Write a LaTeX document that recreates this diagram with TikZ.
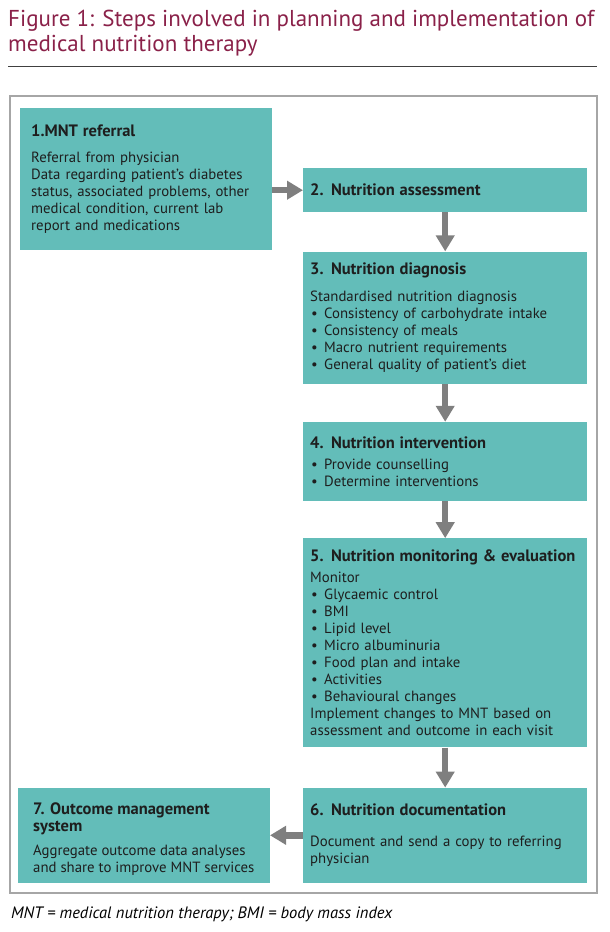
\documentclass[tikz,border=0pt]{standalone}
\usepackage{fontspec}
\setmainfont{PT Sans}
\usetikzlibrary{positioning,arrows.meta,calc}
\definecolor{mntteal}{HTML}{63BDB9}
\definecolor{mntmaroon}{HTML}{8A2149}
\definecolor{mntgrey}{HTML}{7F7F7F}
\definecolor{mntink}{HTML}{1E1E1E}
\newcommand{\bul}{\makebox[14pt][l]{\hspace{1pt}\textbullet}}
\newcommand{\steptitle}[1]{{\fontsize{16.5}{17}\selectfont\bfseries #1}}
\tikzset{
  stepbox/.style={rectangle, fill=mntteal, text=mntink, align=left,
    inner ysep=0pt, font=\fontsize{14.8}{17}\selectfont},
  leftbox/.style={stepbox, inner xsep=11pt, text width=230pt},
  rightbox/.style={stepbox, inner xsep=7pt, text width=270pt},
  flow/.style={-{Triangle[width=18pt,length=16pt]}, draw=mntgrey, line width=6.5pt},
  frame/.style={draw=gray!70, line width=1.2pt},
  rule/.style={draw=black!75, line width=1pt}
}
\begin{document}
\begin{tikzpicture}[x=1pt,y=-1pt,node distance=38pt]
  \useasboundingbox (0,0) rectangle (610,932);
  % title and rule
  \node[anchor=north west, inner sep=0pt, align=left, text=mntmaroon,
    font=\fontsize{23}{25}\selectfont] (title) at (8,10)
    {Figure 1: Steps involved in planning and implementation of\\
     medical nutrition therapy};
  \draw[rule] (8,66) -- (597,66);
  \draw[frame] (10,96) rectangle (597,893);
  % steps
  \node[leftbox, anchor=north west, minimum height=142pt] (referral) at (20,108)
    {\steptitle{1.MNT referral}\\[9pt]
     Referral from physician\\
     Data regarding patient’s diabetes\\
     status, associated problems, other\\
     medical condition, current lab\\
     report and medications};
  \node[rightbox, anchor=north west, minimum height=44pt] (assess) at (303,168)
    {\steptitle{2. Nutrition assessment}};
  \node[rightbox, minimum height=132pt, below=39pt of assess] (diagnosis)
    {\steptitle{3. Nutrition diagnosis}\\[10pt]
     Standardised nutrition diagnosis\\
     \bul Consistency of carbohydrate intake\\
     \bul Consistency of meals\\
     \bul Macro nutrient requirements\\
     \bul General quality of patient’s diet};
  \node[rightbox, minimum height=79pt, below=of diagnosis] (intervention)
    {\steptitle{4. Nutrition intervention}\\[4pt]
     \bul Provide counselling\\
     \bul Determine interventions};
  \node[rightbox, minimum height=209pt, below=37pt of intervention] (monitoring)
    {\steptitle{5. Nutrition monitoring \& evaluation}\\[4pt]
     Monitor\\
     \bul Glycaemic control\\
     \bul BMI\\
     \bul Lipid level\\
     \bul Micro albuminuria\\
     \bul Food plan and intake\\
     \bul Activities\\
     \bul Behavioural changes\\
     Implement changes to MNT based on\\
     assessment and outcome in each visit};
  \node[rightbox, minimum height=95pt, below=40pt of monitoring] (documentation)
    {\steptitle{6. Nutrition documentation}\\[14pt]
     Document and send a copy to referring\\
     physician};
  \node[stepbox, inner xsep=0pt, minimum width=252pt, minimum height=95pt,
    left=33pt of documentation] (outcome)
    {\steptitle{\rule{0pt}{20pt}7. Outcome management}\\
     \steptitle{system}\\[7pt]
     Aggregate outcome data analyses\\
     and share to improve MNT services};
  % arrows
  \draw[flow] (referral.east |- assess.west) -- (assess.west);
  \draw[flow] (assess) -- (diagnosis);
  \draw[flow] (diagnosis) -- (intervention);
  \draw[flow] (intervention) -- (monitoring);
  \draw[flow] (monitoring) -- (documentation);
  \draw[flow] (documentation) -- (outcome);
  % footnote
  \node[anchor=base west, inner sep=0pt, font=\fontsize{16.5}{17}\selectfont\itshape]
    (note) at (11,918) {MNT = medical nutrition therapy; BMI = body mass index};
\end{tikzpicture}
\end{document}
